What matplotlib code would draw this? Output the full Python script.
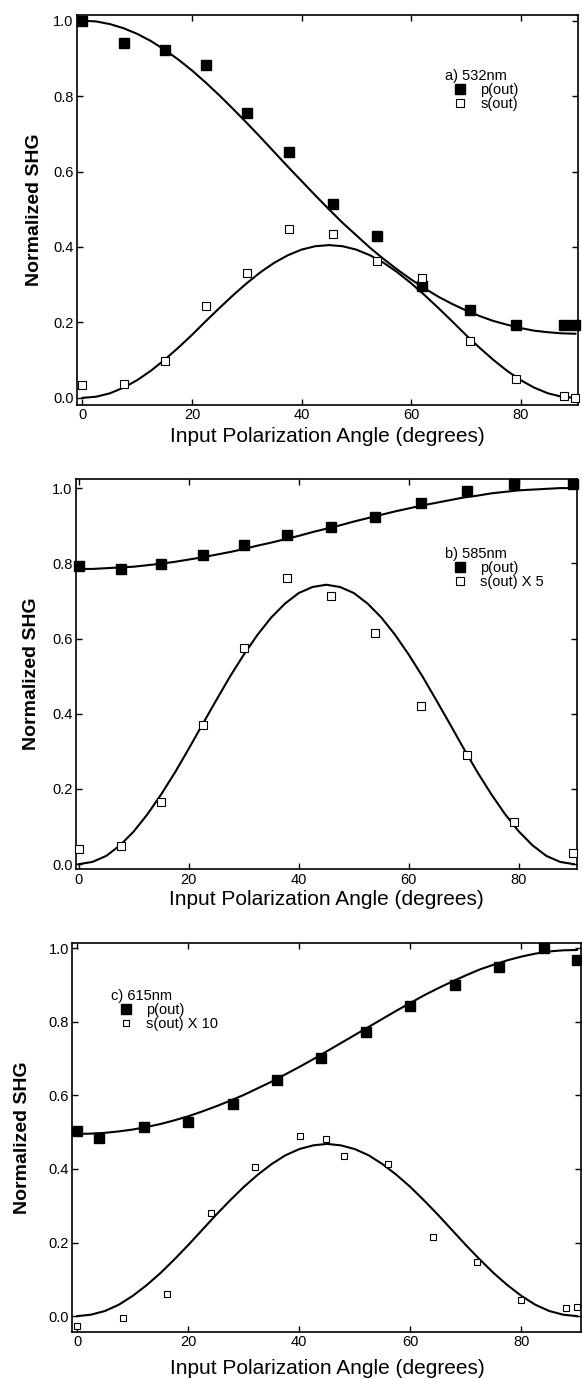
import matplotlib
matplotlib.use("Agg")
import matplotlib.pyplot as plt
from matplotlib.ticker import FormatStrFormatter

plt.rcParams['font.family'] = ['Liberation Sans', 'DejaVu Sans']

# 拟合曲线的角度（每 2.5 度读一次）
fit_angle = [0, 2.5, 5, 7.5, 10, 12.5, 15, 17.5, 20, 22.5, 25, 27.5, 30, 32.5, 35, 37.5,
             40, 42.5, 45, 47.5, 50, 52.5, 55, 57.5, 60, 62.5, 65, 67.5, 70, 72.5, 75,
             77.5, 80, 82.5, 85, 87.5, 90]

# a) 532nm
angle_a = [0, 7.5, 15, 22.5, 30, 37.8, 45.8, 53.8, 62.0, 70.7, 79.1, 87.9, 90.0]
p_a = [1.0, 0.94, 0.922, 0.882, 0.756, 0.653, 0.514, 0.428, 0.297, 0.232, 0.192, 0.192, 0.192]
s_a = [0.035, 0.038, 0.097, 0.243, 0.331, 0.448, 0.435, 0.364, 0.318, 0.152, 0.049, 0.004, 0.0]
fit_p_a = [1.0, 0.998, 0.991, 0.980, 0.965, 0.946, 0.923, 0.897, 0.868, 0.836, 0.802, 0.766,
           0.729, 0.691, 0.652, 0.613, 0.575, 0.537, 0.500, 0.464, 0.431, 0.398, 0.368,
           0.340, 0.314, 0.290, 0.268, 0.249, 0.232, 0.217, 0.204, 0.194, 0.185, 0.178,
           0.174, 0.171, 0.170]
fit_s_a = [0, 0.003, 0.012, 0.027, 0.047, 0.072, 0.101, 0.133, 0.167, 0.203, 0.238, 0.272,
           0.304, 0.333, 0.358, 0.378, 0.393, 0.402, 0.405, 0.402, 0.393, 0.378, 0.358,
           0.333, 0.304, 0.272, 0.238, 0.203, 0.167, 0.133, 0.101, 0.072, 0.047, 0.027,
           0.012, 0.003, 0]

# b) 585nm
angle_b = [0, 7.6, 15, 22.5, 30, 37.8, 45.8, 53.9, 62.2, 70.6, 79.2, 89.9]
p_b = [0.792, 0.785, 0.798, 0.823, 0.848, 0.875, 0.897, 0.923, 0.960, 0.993, 1.011, 1.012]
s_b = [0.040, 0.047, 0.165, 0.369, 0.576, 0.761, 0.714, 0.614, 0.421, 0.291, 0.111, 0.029]
fit_p_b = [0.785, 0.785, 0.787, 0.789, 0.791, 0.795, 0.799, 0.804, 0.810, 0.816, 0.823,
           0.830, 0.838, 0.847, 0.855, 0.864, 0.873, 0.883, 0.892, 0.901, 0.911, 0.920,
           0.929, 0.938, 0.946, 0.954, 0.961, 0.968, 0.975, 0.980, 0.986, 0.990, 0.994,
           0.996, 0.998, 1.000, 1.0]
fit_s_b = [0, 0.006, 0.022, 0.050, 0.087, 0.133, 0.186, 0.244, 0.307, 0.372, 0.436, 0.499,
           0.557, 0.610, 0.656, 0.693, 0.721, 0.737, 0.743, 0.737, 0.721, 0.693, 0.656,
           0.610, 0.557, 0.499, 0.436, 0.372, 0.307, 0.244, 0.186, 0.133, 0.087, 0.050,
           0.022, 0.006, 0]

# c) 615nm
angle_c_p = [0, 4, 12, 20, 28, 36, 44, 52, 60, 68, 76, 84, 90]
p_c = [0.504, 0.483, 0.515, 0.527, 0.576, 0.641, 0.701, 0.773, 0.843, 0.900, 0.948, 1.0, 0.968]
angle_c_s = [0, 8.2, 16.2, 24.1, 32, 40.1, 44.9, 48.1, 56, 64, 72, 80, 88, 90]
s_c = [-0.027, -0.004, 0.060, 0.279, 0.406, 0.490, 0.481, 0.435, 0.413, 0.214, 0.148, 0.044, 0.021, 0.025]
fit_p_c = [0.495, 0.496, 0.498, 0.502, 0.507, 0.514, 0.522, 0.532, 0.543, 0.556, 0.570,
           0.585, 0.601, 0.619, 0.637, 0.657, 0.677, 0.698, 0.720, 0.742, 0.764, 0.786,
           0.808, 0.830, 0.851, 0.872, 0.891, 0.909, 0.926, 0.942, 0.955, 0.967, 0.977,
           0.985, 0.991, 0.994, 0.995]
fit_s_c = [0, 0.004, 0.014, 0.031, 0.055, 0.084, 0.117, 0.154, 0.193, 0.234, 0.275, 0.314,
           0.351, 0.384, 0.413, 0.437, 0.454, 0.464, 0.468, 0.464, 0.454, 0.437, 0.413,
           0.384, 0.351, 0.314, 0.275, 0.234, 0.193, 0.154, 0.117, 0.084, 0.055, 0.031,
           0.014, 0.004, 0]

panels = [
    dict(title="a) 532nm", s_label="s(out)", ax_rect=[0.1323, 0.7063, 0.861, 0.2828],
         xlim=(-1.0, 90.5), ylim=(-0.019, 1.015), leg_xy=(0.735, 0.862), ylab_x=-0.068,
         xpad=3, ang_p=angle_a, p=p_a, ang_s=angle_a, s=s_a, fp=fit_p_a, fs=fit_s_a, ms_s=5.2),
    dict(title="b) 585nm", s_label="s(out) X 5", ax_rect=[0.1306, 0.3698, 0.861, 0.2828],
         xlim=(-0.5, 90.6), ylim=(-0.013, 1.024), leg_xy=(0.737, 0.826), ylab_x=-0.072,
         xpad=2.5, ang_p=angle_b, p=p_b, ang_s=angle_b, s=s_b, fp=fit_p_b, fs=fit_s_b, ms_s=5.2),
    dict(title="c) 615nm", s_label="s(out) X 10", ax_rect=[0.1244, 0.0341, 0.8746, 0.2821],
         xlim=(-0.85, 90.8), ylim=(-0.043, 1.014), leg_xy=(0.076, 0.882), ylab_x=-0.082,
         xpad=7, ang_p=angle_c_p, p=p_c, ang_s=angle_c_s, s=s_c, fp=fit_p_c, fs=fit_s_c, ms_s=4.3),
]

fig = plt.figure(figsize=(5.82, 13.79), dpi=100)

for cfg in panels:
    ax = fig.add_axes(cfg["ax_rect"])
    ax.plot(fit_angle, cfg["fp"], color='black', lw=1.5, zorder=2)
    ax.plot(fit_angle, cfg["fs"], color='black', lw=1.5, zorder=2)
    hp, = ax.plot(cfg["ang_p"], cfg["p"], 's', color='black', ms=6.5, label="p(out)",
                  clip_on=False, zorder=3)
    hs, = ax.plot(cfg["ang_s"], cfg["s"], 's', mfc='white', mec='black', mew=0.8,
                  ms=cfg["ms_s"], label=cfg["s_label"], clip_on=False, zorder=3)

    ax.set_xlim(*cfg["xlim"])
    ax.set_ylim(*cfg["ylim"])
    ax.set_xticks([0, 20, 40, 60, 80])
    ax.set_yticks([0.0, 0.2, 0.4, 0.6, 0.8, 1.0])
    ax.yaxis.set_major_formatter(FormatStrFormatter('%.1f'))
    ax.tick_params(direction='in', top=True, right=True, length=4, width=1,
                   labelsize=10.5, pad=2.5)
    for sp in ax.spines.values():
        sp.set_linewidth(1.2)

    ax.set_xlabel("Input Polarization Angle (degrees)", fontsize=15, labelpad=cfg["xpad"])
    ax.set_ylabel("Normalized SHG", fontsize=14, fontweight='bold')
    ax.yaxis.set_label_coords(cfg["ylab_x"], 0.5)

    ax.legend(handles=[hp, hs], title=cfg["title"], loc='upper left',
              bbox_to_anchor=cfg["leg_xy"], frameon=False, fontsize=10.5,
              title_fontsize=10.5, alignment='left', borderpad=0,
              labelspacing=0.0, handlelength=2.0, handletextpad=0.4,
              borderaxespad=0)

fig.savefig("out.png", dpi=100)
